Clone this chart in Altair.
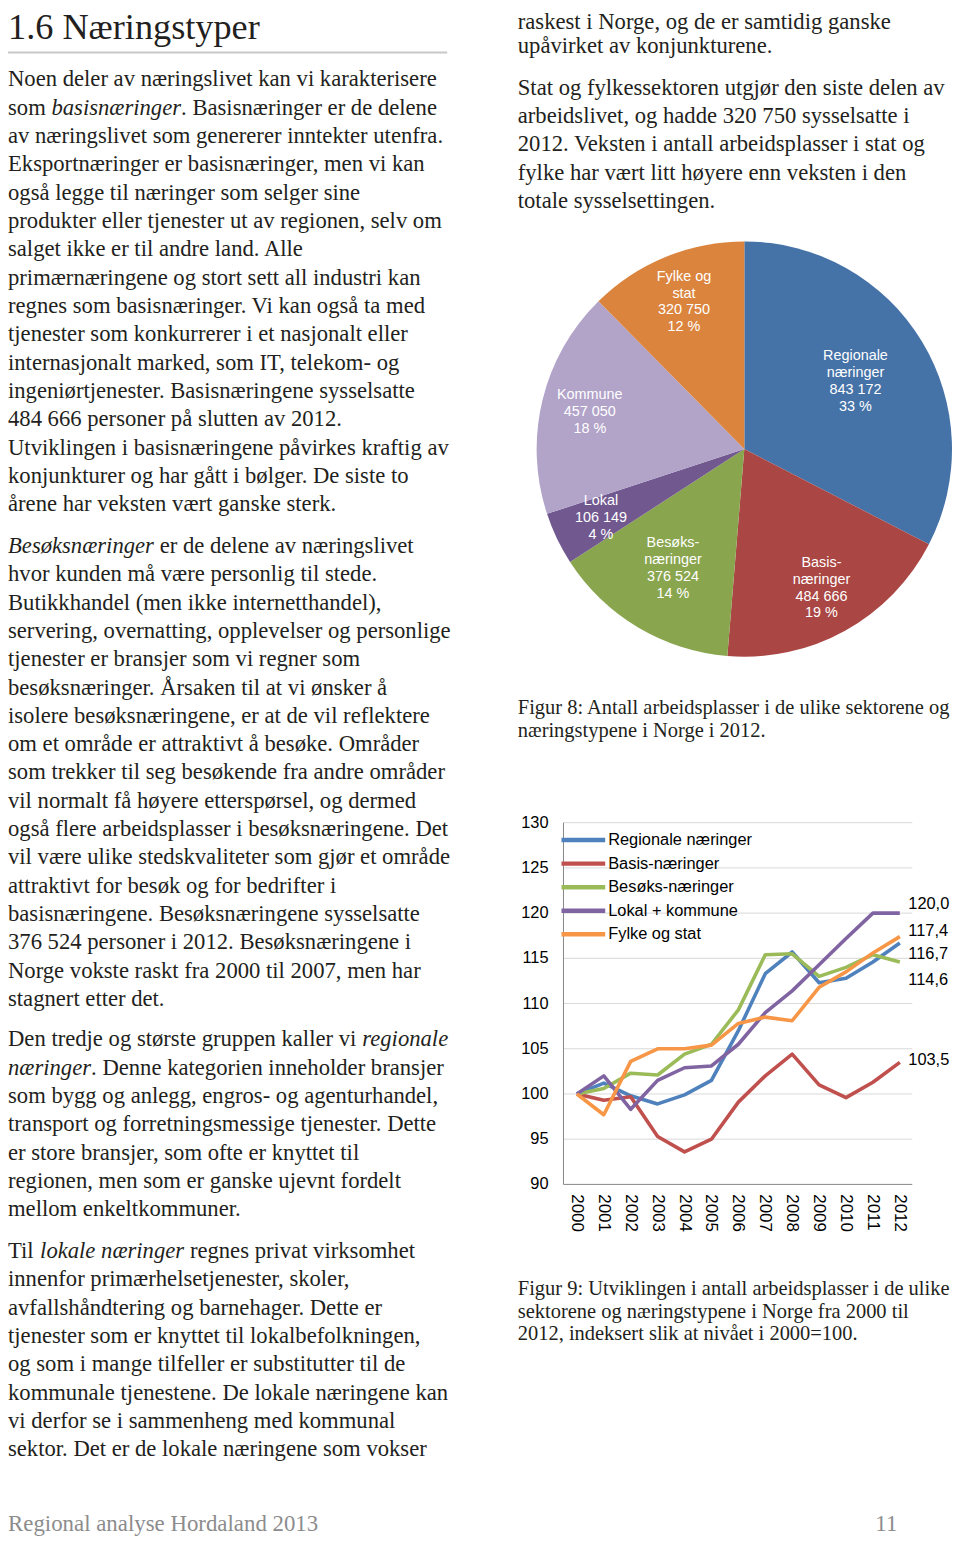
import math
import altair as alt
import pandas as pd

# ------------------------------------------------------------------ data
pie_names = ["Regionale næringer", "Basis-næringer", "Besøks-næringer", "Lokal", "Kommune", "Fylke og stat"]
pie_label_words = [["Regionale", "næringer"], ["Basis-", "næringer"], ["Besøks-", "næringer"],
                   ["Lokal"], ["Kommune"], ["Fylke og", "stat"]]
pie_values = [843172, 484666, 376524, 106149, 457050, 320750]
pie_percent = [33, 19, 14, 4, 18, 12]
pie_colors = ["#4572A7", "#AA4643", "#89A54E", "#71588F", "#B2A3C9", "#DB843D"]

years = [2000, 2001, 2002, 2003, 2004, 2005, 2006, 2007, 2008, 2009, 2010, 2011, 2012]
series_names = ["Regionale næringer", "Basis-næringer", "Besøks-næringer", "Lokal + kommune", "Fylke og stat"]
regionale = [100, 101.2, 99.8, 98.9, 99.9, 101.5, 107.0, 113.3, 115.7, 112.3, 112.8, 114.6, 116.7]
basis = [100, 99.3, 99.7, 95.3, 93.6, 95.0, 99.1, 102.0, 104.4, 101.0, 99.6, 101.3, 103.5]
besoks = [100, 100.6, 102.3, 102.1, 104.4, 105.5, 109.3, 115.4, 115.5, 113.0, 114.0, 115.4, 114.6]
lokal = [100, 102.0, 98.3, 101.5, 102.9, 103.1, 105.5, 109.0, 111.4, 114.3, 117.2, 120.0, 120.0]
fylke = [100, 97.7, 103.6, 105.0, 105.0, 105.4, 107.8, 108.5, 108.1, 111.8, 113.5, 115.6, 117.4]
line_colors = ["#4F81BD", "#C0504D", "#9BBB59", "#8064A2", "#F79646"]
y_ticks = [90, 95, 100, 105, 110, 115, 120, 125, 130]

title_text = "1.6  Næringstyper"
left_p1 = [
    "Noen deler av næringslivet kan vi karakterisere",
    "som *basisnæringer*. Basisnæringer er de delene",
    "av næringslivet som genererer inntekter utenfra.",
    "Eksportnæringer er basisnæringer, men vi kan",
    "også legge til næringer som selger sine",
    "produkter eller tjenester ut av regionen, selv om",
    "salget ikke er til andre land. Alle",
    "primærnæringene og stort sett all industri kan",
    "regnes som basisnæringer. Vi kan også ta med",
    "tjenester som konkurrerer i et nasjonalt eller",
    "internasjonalt marked, som IT, telekom- og",
    "ingeniørtjenester. Basisnæringene sysselsatte",
    "484 666 personer på slutten av 2012.",
    "Utviklingen i basisnæringene påvirkes kraftig av",
    "konjunkturer og har gått i bølger. De siste to",
    "årene har veksten vært ganske sterk.",
]
left_p2 = [
    "*Besøksnæringer* er de delene av næringslivet",
    "hvor kunden må være personlig til stede.",
    "Butikkhandel (men ikke internetthandel),",
    "servering, overnatting, opplevelser og personlige",
    "tjenester er bransjer som vi regner som",
    "besøksnæringer. Årsaken til at vi ønsker å",
    "isolere besøksnæringene, er at de vil reflektere",
    "om et område er attraktivt å besøke. Områder",
    "som trekker til seg besøkende fra andre områder",
    "vil normalt få høyere etterspørsel, og dermed",
    "også flere arbeidsplasser i besøksnæringene. Det",
    "vil være ulike stedskvaliteter som gjør et område",
    "attraktivt for besøk og for bedrifter i",
    "basisnæringene. Besøksnæringene sysselsatte",
    "376 524 personer i 2012. Besøksnæringene i",
    "Norge vokste raskt fra 2000 til 2007, men har",
    "stagnert etter det.",
]
left_p3 = [
    "Den tredje og største gruppen kaller vi *regionale*",
    "*næringer*. Denne kategorien inneholder bransjer",
    "som bygg og anlegg, engros- og agenturhandel,",
    "transport og forretningsmessige tjenester. Dette",
    "er store bransjer, som ofte er knyttet til",
    "regionen, men som er ganske ujevnt fordelt",
    "mellom enkeltkommuner.",
]
left_p4 = [
    "Til *lokale næringer* regnes privat virksomhet",
    "innenfor primærhelsetjenester, skoler,",
    "avfallshåndtering og barnehager. Dette er",
    "tjenester som er knyttet til lokalbefolkningen,",
    "og som i mange tilfeller er substitutter til de",
    "kommunale tjenestene. De lokale næringene kan",
    "vi derfor se i sammenheng med kommunal",
    "sektor. Det er de lokale næringene som vokser",
]
right_p1 = [
    "raskest i Norge, og de er samtidig ganske",
    "upåvirket av konjunkturene.",
]
right_p2 = [
    "Stat og fylkessektoren utgjør den siste delen av",
    "arbeidslivet, og hadde 320 750 sysselsatte i",
    "2012. Veksten i antall arbeidsplasser i stat og",
    "fylke har vært litt høyere enn veksten i den",
    "totale sysselsettingen.",
]
caption8 = [
    "Figur 8: Antall arbeidsplasser i de ulike sektorene og",
    "næringstypene i Norge i 2012.",
]
caption9 = [
    "Figur 9: Utviklingen i antall arbeidsplasser i de ulike",
    "sektorene og næringstypene i Norge fra 2000 til",
    "2012, indeksert slik at nivået i 2000=100.",
]
footer_left = "Regional analyse Hordaland 2013"
footer_right = "11"

# ------------------------------------------------------------------ layout helpers
O = 8  # page margin: page coordinate -> chart coordinate
SERIF = "Liberation Serif"
SANS = "Liberation Sans"
FS = 22.8       # body font size
LH = 28.5       # body line height
CS = 20.6       # caption font size
CLH = 23        # caption line height
INK = "#231F20"

ROMAN = {' ': 250, '.': 250, ',': 250, ':': 278, '-': 333, '(': 333, ')': 333, '=': 564,
         'A': 722, 'B': 667, 'D': 722, 'E': 611, 'F': 556, 'I': 333, 'N': 722, 'O': 722,
         'R': 667, 'S': 556, 'T': 611, 'U': 722, 'V': 722, 'Å': 722,
         'a': 444, 'b': 500, 'c': 444, 'd': 500, 'e': 444, 'f': 333, 'g': 500, 'h': 500,
         'i': 278, 'j': 278, 'k': 500, 'l': 278, 'm': 778, 'n': 500, 'o': 500, 'p': 500,
         'q': 500, 'r': 333, 's': 389, 't': 278, 'u': 500, 'v': 500, 'w': 722, 'x': 500,
         'y': 500, 'z': 444, 'å': 444, 'æ': 667, 'ø': 500}
ITALIC = {' ': 250, '.': 250, 'B': 611, 'a': 500, 'b': 500, 'e': 444, 'g': 500, 'i': 278,
          'k': 444, 'l': 278, 'n': 500, 'o': 500, 'r': 389, 's': 389, 'æ': 667, 'ø': 500}


def text_width(s, italic, fs):
    table = ITALIC if italic else ROMAN
    return sum(table.get(ch, 500) for ch in s) / 1000.0 * fs


def para_rows(lines, x_page, y_page, lh, fs):
    rows = []
    for i, line in enumerate(lines):
        x = x_page - O
        y = y_page - O + i * lh
        for j, part in enumerate(line.split("*")):
            if not part:
                continue
            italic = (j % 2 == 1)
            body = part.lstrip(" ")
            x += text_width(part[:len(part) - len(body)], italic, fs)  # SVG drops leading spaces
            rows.append({"text": body, "x": x, "y": y, "style": "italic" if italic else "normal"})
            x += text_width(body, italic, fs)
    return rows


def text_layer(rows, fs, color=INK, style="normal", font=SERIF, align="left"):
    df = pd.DataFrame(rows)
    return alt.Chart(df).mark_text(
        font=font, fontSize=fs, fontStyle=style, color=color, align=align, baseline="middle"
    ).encode(
        x=alt.X("x:Q", scale=None), y=alt.Y("y:Q", scale=None), text="text:N"
    )


LEFT_X = 8  # left column hugs the page margin
body_rows = (para_rows(left_p1, LEFT_X, 75, LH, FS) + para_rows(left_p2, LEFT_X, 544.5, LH, FS)
             + para_rows(left_p3, LEFT_X, 1041, LH, FS) + para_rows(left_p4, LEFT_X, 1254, LH, FS)
             + para_rows(right_p1, 521, 17, 24, FS) + para_rows(right_p2, 521, 83.5, LH, FS))
body_normal = [r for r in body_rows if r["style"] == "normal"]
body_italic = [r for r in body_rows if r["style"] == "italic"]
cap_rows = para_rows(caption8, 521, 708, CLH, CS) + para_rows(caption9, 521, 1292, CLH, CS)

layers = []
layers.append(text_layer([{"text": title_text, "x": LEFT_X - O, "y": 23 - O}], 36.5))
layers.append(alt.Chart(pd.DataFrame({"t": [title_text]})).mark_rule(color="#C8C8C8", strokeWidth=2).encode(
    x=alt.value(0), x2=alt.value(442), y=alt.value(48 - O)))
layers.append(text_layer(body_normal, FS))
layers.append(text_layer(body_italic, FS, style="italic"))
layers.append(text_layer(cap_rows, CS))
layers.append(text_layer([{"text": footer_left, "x": LEFT_X - O, "y": 1529 - O}], 23, color="#8C8C8C"))
layers.append(text_layer([{"text": footer_right, "x": 903 - O, "y": 1529 - O}], 23, color="#8C8C8C", align="right"))

# ------------------------------------------------------------------ pie chart
PIE_CX, PIE_CY, PIE_R = 749 - O, 447 - O, 209
PIE_LH = 17
label_radius = {"Regionale næringer": 131, "Besøks-næringer": 140}
pie_df = pd.DataFrame({
    "name": pie_names,
    "value": pie_values,
    "order": list(range(len(pie_names))),
    "label": [w + [f"{v:,}".replace(",", " "), f"{p} %"]
              for w, v, p in zip(pie_label_words, pie_values, pie_percent)],
})
pie_df["r"] = [label_radius.get(n, 160) for n in pie_names]
pie_df["nlines"] = [len(lbl) for lbl in pie_df["label"]]
ts = alt.Scale(domain=[0, sum(pie_values)], range=[0, 2 * math.pi])

pie_base = alt.Chart(pie_df).transform_window(
    cum="sum(value)", sort=[alt.SortField("order")], frame=[None, 0]
).transform_calculate(
    start="datum.cum - datum.value", mid="datum.cum - datum.value / 2"
)
pie = pie_base.mark_arc(outerRadius=PIE_R).encode(
    theta=alt.Theta("start:Q", scale=ts, stack=None),
    theta2="cum:Q",
    color=alt.Color("name:N", scale=alt.Scale(domain=pie_names, range=pie_colors), legend=None),
    x=alt.value(PIE_CX), y=alt.value(PIE_CY),
)
layers.append(pie)
for n_lines in sorted(set(pie_df["nlines"])):
    layers.append(pie_base.transform_filter(f"datum.nlines == {n_lines}").mark_text(
        font=SANS, fontSize=14.5, lineHeight=PIE_LH, color="#FFFFFF", align="center",
        baseline="middle", dy=-(n_lines - 1) * PIE_LH / 2
    ).encode(
        theta=alt.Theta("mid:Q", scale=ts, stack=None),
        radius=alt.Radius("r:Q", scale=None),
        text=alt.Text("label"),
        x=alt.value(PIE_CX), y=alt.value(PIE_CY),
    ))

# ------------------------------------------------------------------ line chart
xs = alt.Scale(domain=[2000, 2012], range=[580.5 - O, 905.5 - O], nice=False, zero=False)
ys = alt.Scale(domain=[90, 130], range=[1187 - O, 823 - O], nice=False, zero=False)
AX_L, AX_R = 567 - O, 918 - O

series = [regionale, basis, besoks, lokal, fylke]
line_df = pd.DataFrame([
    {"series": n, "year": yr, "idx": v, "k": k}
    for k, (n, vals) in enumerate(zip(series_names, series)) for yr, v in zip(years, vals)
])
tick_df = pd.DataFrame({"tick": y_ticks})
year_df = pd.DataFrame({"year": years})

grid = alt.Chart(tick_df[tick_df.tick > 90]).mark_rule(color="#D9D9D9", strokeWidth=1).encode(
    y=alt.Y("tick:Q", scale=ys, axis=None), x=alt.value(AX_L), x2=alt.value(AX_R))
y_axis = alt.Chart(tick_df.head(1)).mark_rule(color="#868686", strokeWidth=1).encode(
    x=alt.value(AX_L), y=alt.Y(datum=90, scale=ys, axis=None), y2=alt.Y2(datum=130))
x_axis = alt.Chart(tick_df.head(1)).mark_rule(color="#868686", strokeWidth=1).encode(
    y=alt.Y(datum=90, scale=ys, axis=None), x=alt.value(AX_L), x2=alt.value(AX_R))
tick_labels = alt.Chart(tick_df).mark_text(
    font=SANS, fontSize=16.5, color="#000000", align="right", baseline="middle").encode(
    y=alt.Y("tick:Q", scale=ys, axis=None), x=alt.value(552 - O), text=alt.Text("tick:Q", format="d"))
year_labels = alt.Chart(year_df).mark_text(
    font=SANS, fontSize=17, color="#000000", align="left", baseline="middle", angle=90).encode(
    x=alt.X("year:Q", scale=xs, axis=None), y=alt.value(1197 - O), text=alt.Text("year:Q", format="d"))
lines = alt.Chart(line_df).mark_line(strokeWidth=3.6, strokeJoin="round").encode(
    x=alt.X("year:Q", scale=xs, axis=None),
    y=alt.Y("idx:Q", scale=ys, axis=None),
    color=alt.Color("series:N", scale=alt.Scale(domain=series_names, range=line_colors), legend=None),
    detail="k:Q",
)
layers += [grid, y_axis, x_axis, tick_labels, year_labels, lines]

# end-of-line value labels (offsets avoid overlap)
end_dy = {"Regionale næringer": 11, "Basis-næringer": -2, "Besøks-næringer": 18,
          "Lokal + kommune": -9, "Fylke og stat": -6}
for n, vals in zip(series_names, series):
    d = pd.DataFrame({"v": [vals[-1]], "t": [f"{vals[-1]:.1f}".replace(".", ",")]})
    layers.append(alt.Chart(d).mark_text(
        font=SANS, fontSize=16.5, color="#000000", align="left", baseline="middle", dy=end_dy[n]).encode(
        y=alt.Y("v:Q", scale=ys, axis=None), x=alt.value(914 - O), text="t:N"))

# legend inside the plot
leg_df = pd.DataFrame({"series": series_names})
leg_df["ly"] = [840.5 - O + i * 23.7 for i in range(len(series_names))]
leg_lines = alt.Chart(leg_df).mark_rule(strokeWidth=4.5).encode(
    x=alt.value(565 - O), x2=alt.value(609 - O), y=alt.Y("ly:Q", scale=None),
    color=alt.Color("series:N", scale=alt.Scale(domain=series_names, range=line_colors), legend=None))
leg_text = alt.Chart(leg_df).mark_text(
    font=SANS, fontSize=16.5, color="#000000", align="left", baseline="middle").encode(
    x=alt.value(612 - O), y=alt.Y("ly:Q", scale=None), text="series:N")
layers += [leg_lines, leg_text]

chart = alt.layer(*layers).resolve_scale(color="independent").properties(
    width=950, height=1533, padding=0,
    autosize=alt.AutoSizeParams(type="none"),
    background="white",
).configure_view(strokeWidth=0)

chart.save("out.html", embed_options={"renderer": "svg", "actions": False})
